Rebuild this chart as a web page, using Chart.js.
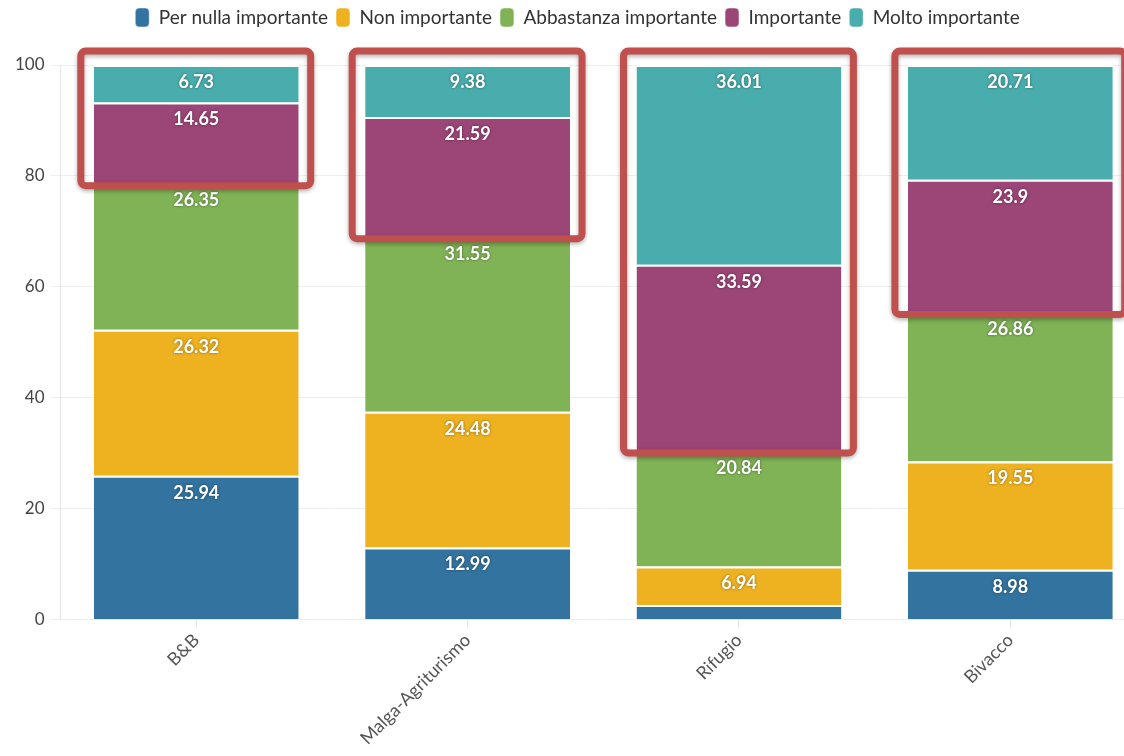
<!DOCTYPE html>
<html>
<head>
<meta charset="utf-8">
<script src="https://cdn.jsdelivr.net/npm/chart.js@4.4.1/dist/chart.umd.min.js"></script>
<style>
  html, body { margin: 0; padding: 0; background: #fff; overflow: hidden; }
  #wrap { width: 1150px; height: 756px; position: relative; }
</style>
</head>
<body>
<div id="wrap"><canvas id="chart"></canvas></div>
<script>
// ------------------------------------------------------------
// Dati
// ------------------------------------------------------------
const categories = ['B&B', 'Malga-Agriturismo', 'Rifugio', 'Bivacco'];
const seriesNames = ['Per nulla importante', 'Non importante', 'Abbastanza importante', 'Importante', 'Molto importante'];
const perNulla = [25.94, 12.99, 2.62, 8.98];
const nonImportante = [26.32, 24.48, 6.94, 19.55];
const abbastanza = [26.35, 31.55, 20.84, 26.86];
const importante = [14.65, 21.59, 33.59, 23.9];
const moltoImportante = [6.73, 9.38, 36.01, 20.71];
const yTicks = [0, 20, 40, 60, 80, 100];

const colors = ['#33739f', '#eeb220', '#80b356', '#9c4577', '#4aadad'];
const FONT = 'Lato, "Open Sans", sans-serif';

// ------------------------------------------------------------
// Plugin: etichette dei valori
// ------------------------------------------------------------
const valueLabels = {
  id: 'valueLabels',
  afterDatasetsDraw(chart) {
    const ctx = chart.ctx;
    ctx.save();
    ctx.font = 'bold 18px ' + FONT;
    ctx.fillStyle = '#fff';
    ctx.textAlign = 'center';
    ctx.textBaseline = 'middle';
    ctx.shadowColor = 'rgba(0,0,0,0.45)';
    ctx.shadowBlur = 3;
    chart.data.datasets.forEach((ds, di) => {
      const meta = chart.getDatasetMeta(di);
      meta.data.forEach((bar, i) => {
        const v = ds.data[i];
        if (v < 4) return;
        ctx.fillText(String(v), bar.x, bar.y + 17);
      });
    });
    ctx.restore();
  }
};

// ------------------------------------------------------------
// Plugin: riquadri rossi (Importante + Molto importante)
// ------------------------------------------------------------
const highlightBoxes = {
  id: 'highlightBoxes',
  afterDraw(chart) {
    const ctx = chart.ctx;
    const topMeta = chart.getDatasetMeta(4);
    const lowMeta = chart.getDatasetMeta(3);
    ctx.save();
    ctx.strokeStyle = '#c0504e';
    ctx.lineWidth = 7;
    ctx.shadowColor = 'rgba(0,0,0,0.3)';
    ctx.shadowBlur = 4;
    ctx.shadowOffsetY = 2;
    topMeta.data.forEach((bar, i) => {
      const low = lowMeta.data[i];
      const left = bar.x - bar.width / 2 - 13;
      const right = bar.x + bar.width / 2 + 12;
      const top = bar.y - 14;
      const bottom = low.base + 2;
      ctx.beginPath();
      ctx.roundRect(left, top, right - left, bottom - top, 5);
      ctx.stroke();
    });
    ctx.restore();
  }
};

// ------------------------------------------------------------
// Grafico
// ------------------------------------------------------------
const seriesData = [perNulla, nonImportante, abbastanza, importante, moltoImportante];

const chart = new Chart(document.getElementById('chart').getContext('2d'), {
  type: 'bar',
  data: {
    labels: categories,
    datasets: seriesNames.map((name, i) => ({
      label: name,
      data: seriesData[i],
      backgroundColor: colors[i],
      borderColor: '#fff',
      borderWidth: { top: 2, left: 0, right: 0, bottom: 0 },
      borderSkipped: false,
      categoryPercentage: 0.755,
      barPercentage: 1
    }))
  },
  options: {
    responsive: true,
    maintainAspectRatio: false,
    devicePixelRatio: 1,
    animation: false,
    layout: { padding: { left: 9, right: 4, top: 0, bottom: 5 } },
    scales: {
      x: {
        stacked: true,
        grid: { display: true, drawOnChartArea: false, offset: false, color: '#e6e6e6', tickLength: 8 },
        border: { color: '#eeeeee' },
        ticks: {
          color: '#555',
          font: { family: FONT, size: 18 },
          maxRotation: 45,
          minRotation: 45,
          padding: 2
        }
      },
      y: {
        stacked: true,
        min: 0,
        max: 100,
        afterBuildTicks(axis) { axis.ticks = yTicks.map(v => ({ value: v })); },
        grid: { color: '#eeeeee', tickLength: 10 },
        border: { display: true, color: '#e6e6e6' },
        ticks: {
          color: '#444',
          font: { family: FONT, size: 17 },
          padding: 6
        }
      }
    },
    plugins: {
      legend: {
        position: 'top',
        labels: {
          color: '#333',
          font: { family: FONT, size: 19 },
          boxWidth: 14,
          boxHeight: 19,
          useBorderRadius: true,
          borderRadius: 4,
          padding: 8
        }
      },
      tooltip: { enabled: false }
    }
  },
  plugins: [valueLabels, highlightBoxes, {
    id: 'legendSpace',
    beforeInit(chart) {
      const fit = chart.legend.fit;
      chart.legend.fit = function () {
        fit.call(this);
        this.height += 28;
      };
    }
  }]
});
</script>
</body>
</html>
